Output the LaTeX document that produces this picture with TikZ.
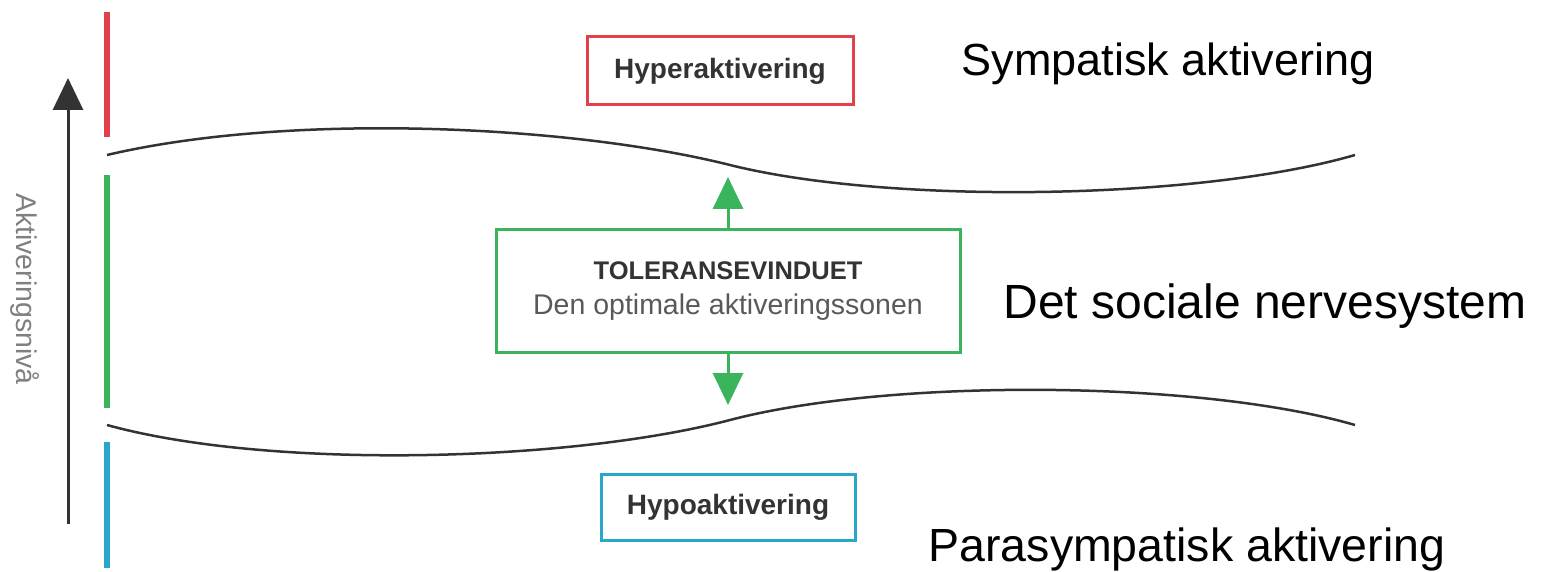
\documentclass[tikz,border=0pt]{standalone}
\usepackage{fontspec}
\setmainfont{Liberation Sans}
\usetikzlibrary{arrows.meta}

\definecolor{hyperred}{HTML}{E0414B}
\definecolor{windowgreen}{HTML}{3BB55B}
\definecolor{hypoblue}{HTML}{2BA6CB}
\definecolor{boxtext}{HTML}{333333}
\definecolor{axisgray}{HTML}{808080}

\begin{document}
\begin{tikzpicture}[x=1pt, y=-1pt,
		statebox/.style={draw, line width=3pt, inner sep=0pt, text=boxtext,
			font=\fontsize{28}{32}\selectfont\bfseries},
		sidelabel/.style={anchor=base west, font=\fontsize{45}{50}\selectfont},
		levelbar/.style={line width=6pt},
		band/.style={line width=2.5pt, draw=black!80},
		growarrow/.style={line width=3pt, windowgreen, -{Triangle[length=32pt, width=30pt]}}]
	\useasboundingbox (0, 0) rectangle (1542, 572);

	% aktiveringsniva, left side
	\coordinate (axislow) at (68, 524);
	\coordinate (axishigh) at (68, 78);
	\draw [line width=3pt, black!80, -{Triangle[length=32pt, width=30pt]}] (axislow) -- (axishigh);
	\node [rotate=-90, text=axisgray, font=\fontsize{28.5}{30}\selectfont] (axislabel) at (25, 289) {Aktiveringsnivå};

	\draw [levelbar, hyperred] (107, 12) -- (107, 137);
	\draw [levelbar, windowgreen] (107, 175) -- (107, 408);
	\draw [levelbar, hypoblue] (107, 442) -- (107, 568);

	% the two edges of the window
	\draw [band] (107, 155) .. controls (290, 112) and (570, 125) .. (730, 165)
		.. controls (890, 205) and (1200, 200) .. (1355, 155);
	\draw [band] (107, 425) .. controls (270, 470) and (570, 462) .. (730, 420)
		.. controls (890, 378) and (1200, 380) .. (1355, 425);

	% boxes
	\node [statebox, draw=hyperred, minimum width=266pt, minimum height=68pt] (hyper) at (720, 71) {Hyperaktivering};
	\node [statebox, draw=windowgreen, minimum width=464pt, minimum height=122pt, align=center] (window) at (728, 291)
		{{\fontsize{25.5}{28}\selectfont TOLERANSEVINDUET}\\[3pt]{\mdseries\fontsize{28.5}{32}\selectfont\color{black!65}Den optimale aktiveringssonen}};
	\node [statebox, draw=hypoblue, minimum width=254pt, minimum height=66pt] (hypo) at (728, 507) {Hypoaktivering};

	\coordinate (uptip) at (728, 177);
	\coordinate (downtip) at (728, 405);
	\draw [growarrow] (window.north) -- (uptip);
	\draw [growarrow] (window.south) -- (downtip);

	% right side
	\node [sidelabel] (sympatisk) at (958, 76) {Sympatisk aktivering};
	\node [sidelabel, font=\fontsize{48}{52}\selectfont] (sosial) at (1000, 318) {Det sociale nervesystem};
	\node [sidelabel, font=\fontsize{46.5}{52}\selectfont] (parasympatisk) at (925, 561) {Parasympatisk aktivering};
\end{tikzpicture}
\end{document}
